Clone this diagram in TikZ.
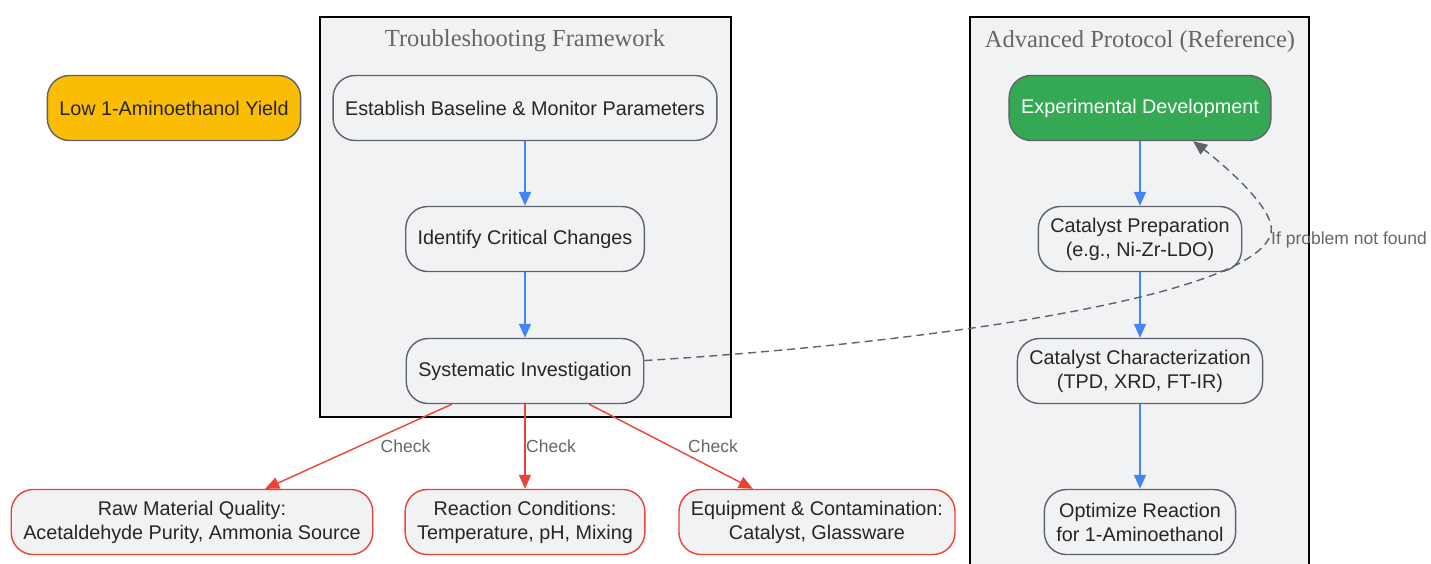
\documentclass[tikz,border=0pt]{standalone}
\usepackage{fontspec}
\setmainfont{Liberation Sans}
\newfontfamily\titlefont{Liberation Serif}
\usepackage{tikz}
\usetikzlibrary{shapes,arrows.meta,positioning}
\definecolor{panelgrey}{RGB}{241,242,244}
\definecolor{edgegrey}{RGB}{95,99,104}
\definecolor{labelgrey}{RGB}{102,102,102}
\definecolor{flowblue}{RGB}{66,133,244}
\definecolor{checkred}{RGB}{234,67,53}
\definecolor{startamber}{RGB}{251,188,4}
\definecolor{devgreen}{RGB}{52,168,83}
\tikzstyle{pnode} = [rectangle, rounded corners=22pt, draw=edgegrey, line width=1.4pt, fill=panelgrey, minimum height=65pt, inner xsep=12pt, align=center, text=black!85, font=\fontsize{19.8}{24}\selectfont]
\tikzstyle{cnode} = [pnode, draw=checkred]
\tikzstyle{panel} = [draw=black, line width=1.8pt, fill=panelgrey]
\tikzstyle{paneltitle} = [text=labelgrey, font=\titlefont\fontsize{24.5}{28}\selectfont]
\tikzstyle{lbl} = [text=labelgrey, font=\fontsize{17.5}{21}\selectfont]
\tikzstyle{flow} = [draw=flowblue, line width=1.4pt, -{Triangle[length=14pt,width=12pt]}]
\tikzstyle{check} = [draw=checkred, line width=1.4pt, -{Triangle[length=14pt,width=12pt]}]
\tikzstyle{retry} = [draw=edgegrey, line width=1.4pt, dash pattern=on 8pt off 5pt, -{Triangle[length=14pt,width=12pt]}]

\begin{document}
\begin{tikzpicture}[x=1pt, y=-1pt]
			\useasboundingbox (0,0) rectangle (1431,563);
			% panels
			\path [panel] (320,17) rectangle (731,417);
			\path [panel] (970,17) rectangle (1309,580);
			\node [paneltitle] (trouble) at (525,41) {Troubleshooting Framework};
			\node [paneltitle] (advanced) at (1140,41) {Advanced Protocol (Reference)};
			
			\node [pnode, fill=startamber] (low) at (174,108) {Low 1-Aminoethanol Yield};
			
			\node [pnode] (base) at (525,108) {Establish Baseline \& Monitor Parameters};
			\node [pnode] (ident) at (525,239) {Identify Critical Changes};
			\node [pnode] (sys) at (525,371) {Systematic Investigation};
			
			\node [cnode] (raw) at (192,522) {Raw Material Quality:\\Acetaldehyde Purity, Ammonia Source};
			\node [cnode] (cond) at (525,522) {Reaction Conditions:\\Temperature, pH, Mixing};
			\node [cnode] (equip) at (817,522) {Equipment \& Contamination:\\Catalyst, Glassware};
			
			\node [pnode, fill=devgreen, text=white] (dev) at (1140,108) {Experimental Development};
			\node [pnode] (prep) at (1140,239) {Catalyst Preparation\\(e.g., Ni-Zr-LDO)};
			\node [pnode] (char) at (1140,371) {Catalyst Characterization\\(TPD, XRD, FT-IR)};
			\node [pnode] (opt) at (1140,522) {Optimize Reaction\\for 1-Aminoethanol};
			
			\path [flow] (base) -- (ident);
			\path [flow] (ident) -- (sys);
			\path [flow] (dev) -- (prep);
			\path [flow] (prep) -- (char);
			\path [flow] (char) -- (opt);
			
			\path [check] (sys) -- node [lbl, xshift=47pt] {Check} (raw);
			\path [check] (sys) -- node [lbl, xshift=26pt] {Check} (cond);
			\path [check] (sys) -- node [lbl, xshift=42pt] {Check} (equip);
			
			\path [retry] (sys.5) .. controls (900,345) and (1255,300) .. (1271,233)
				.. controls (1277,208) and (1215,158) .. (dev.-32);
			\node [lbl] (notfound) at (1349,240) {If problem not found};
		\end{tikzpicture}
\end{document}
